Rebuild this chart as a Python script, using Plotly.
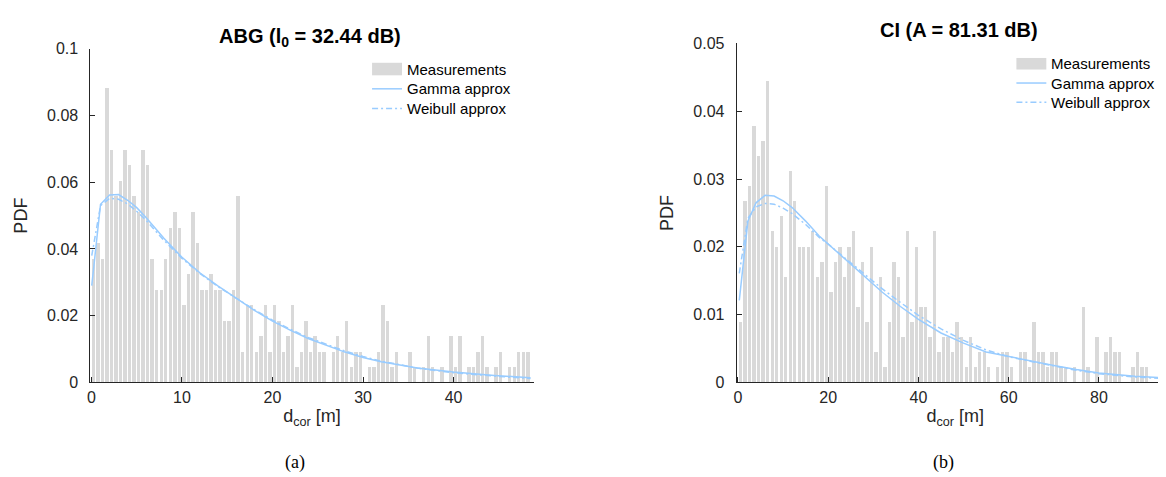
import numpy as np
import plotly.graph_objects as go

# ---------------- data: panel (a) ABG ----------------
bin_width_a = 0.5
pdf_per_count_a = 0.00465          # height of one sample in the pdf histogram (read)
counts_a = [8, 9, 8, 19, 15, 12, 13, 15, 14, 12, 11, 15, 14, 8, 6, 6, 8, 10, 11, 10,
            5, 7, 11, 9, 6, 6, 7, 6, 6, 4, 4, 6, 12, 2, 5, 5, 2, 3, 5, 2,
            5, 4, 2, 3, 5, 1, 2, 4, 2, 3, 2, 2, 0, 2, 3, 2, 4, 1, 2, 2,
            0, 1, 1, 2, 5, 4, 1, 2, 0, 0, 2, 1, 0, 1, 3, 1, 0, 1, 0, 3,
            1, 3, 0, 1, 1, 2, 3, 1, 0, 1, 2, 0, 1, 1, 2, 2, 2]
gamma_a_x = [0.03, 1.0, 2.0, 3.0, 4.0, 5.0, 6.0, 8.0, 10.0, 12.0, 14.0, 16.0, 18.0, 20.0,
             22.0, 24.0, 26.0, 28.0, 30.0, 32.0, 36.0, 40.0, 44.5, 48.5]
gamma_a_y = [0.0290, 0.0534, 0.0562, 0.0563, 0.0546, 0.0524, 0.0495, 0.0432, 0.0375, 0.0328,
             0.0289, 0.0253, 0.0216, 0.0184, 0.0156, 0.0131, 0.0110, 0.0091, 0.0075, 0.0062,
             0.0043, 0.0031, 0.0021, 0.0014]
weib_a_x = gamma_a_x
weib_a_y = [0.0380, 0.0530, 0.0552, 0.0549, 0.0535, 0.0513, 0.0487, 0.0426, 0.0372, 0.0326,
            0.0287, 0.0252, 0.0218, 0.0187, 0.0159, 0.0134, 0.0113, 0.0094, 0.0078, 0.0064,
            0.0043, 0.0029, 0.0019, 0.0012]

# ---------------- data: panel (b) CI ----------------
bin_width_b = 1.0
pdf_per_count_b = 0.00222
counts_b = [4, 12, 13, 17, 15, 16, 20, 10, 9, 11, 7, 14, 12, 9, 9, 9, 10, 7, 8, 13,
            6, 8, 9, 7, 9, 10, 5, 8, 4, 9, 2, 7, 1, 4, 8, 7, 3, 10, 4, 9,
            5, 5, 3, 10, 2, 3, 3, 2, 4, 3, 1, 3, 1, 2, 2, 1, 0, 1, 2, 2,
            1, 0, 2, 2, 1, 4, 2, 2, 1, 2, 2, 1, 1, 0, 1, 0, 5, 1, 0, 3,
            0, 2, 3, 2, 2, 0, 0, 1, 2, 1, 1, 0, 0, 0, 1, 1, 2]
gamma_b_x = [0.29, 2.2, 4.0, 6.0, 8.0, 10.0, 12.0, 15.0, 18.0, 20.0, 24.0, 28.0, 32.0, 36.0,
             40.0, 45.0, 50.0, 55.0, 60.0, 65.0, 70.0, 75.0, 80.0, 88.0, 96.6]
gamma_b_y = [0.0121, 0.0238, 0.0265, 0.0276, 0.0275, 0.0268, 0.0258, 0.0238, 0.0216, 0.0204,
             0.0180, 0.0156, 0.0133, 0.0112, 0.0093, 0.0073, 0.0058, 0.0045, 0.0038, 0.0032,
             0.0025, 0.0019, 0.0014, 0.0009, 0.0006]
weib_b_x = gamma_b_x
weib_b_y = [0.0161, 0.0242, 0.0259, 0.0264, 0.0263, 0.0257, 0.0249, 0.0233, 0.0214, 0.0204,
            0.0182, 0.0160, 0.0138, 0.0118, 0.0099, 0.0079, 0.0062, 0.0048, 0.0038, 0.0031,
            0.0024, 0.0018, 0.0013, 0.0008, 0.0005]

series_names = ["Measurements", "Gamma approx", "Weibull approx"]
title_a = "<b>ABG (l<sub>0</sub> = 32.44 dB)</b>"
title_b = "<b>CI (A = 81.31 dB)</b>"
xticks_a = [0, 10, 20, 30, 40]
xticks_b = [0, 20, 40, 60, 80]
yticks_a = [0, 0.02, 0.04, 0.06, 0.08, 0.1]
yticks_a_text = ["0", "0.02", "0.04", "0.06", "0.08", "0.1"]
yticks_b = [0, 0.01, 0.02, 0.03, 0.04, 0.05]
yticks_b_text = ["0", "0.01", "0.02", "0.03", "0.04", "0.05"]

# ---------------- styling ----------------
BAR = "#d9d9d9"
LINE = "#99ccff"
AX = "#262626"
FONT = "Liberation Sans, Arial, Helvetica, sans-serif"
SERIF = "Liberation Serif, Times New Roman, serif"
DASHDOT = "6px,3px,2px,3px"
W, H = 1166, 477

fig = go.Figure()


def add_panel(counts, bw, unit, gx, gy, wx, wy, xa, ya):
    centers = (np.arange(len(counts)) + 0.5) * bw
    heights = np.array(counts) * unit
    fig.add_trace(go.Bar(x=centers, y=heights, width=bw * 0.75, name=series_names[0],
                         marker=dict(color=BAR, line=dict(width=0)),
                         xaxis=xa, yaxis=ya, showlegend=False, hoverinfo="skip"))
    fig.add_trace(go.Scatter(x=gx, y=gy, mode="lines", name=series_names[1], showlegend=False,
                             line=dict(color=LINE, width=1.5), xaxis=xa, yaxis=ya))
    fig.add_trace(go.Scatter(x=wx, y=wy, mode="lines", name=series_names[2], showlegend=False,
                             line=dict(color=LINE, width=1.5, dash=DASHDOT), xaxis=xa, yaxis=ya))


add_panel(counts_a, bin_width_a, pdf_per_count_a, gamma_a_x, gamma_a_y, weib_a_x, weib_a_y, "x", "y")
add_panel(counts_b, bin_width_b, pdf_per_count_b, gamma_b_x, gamma_b_y, weib_b_x, weib_b_y, "x2", "y2")


def xaxis(dom, rng, ticks, anchor):
    return dict(domain=dom, range=rng, tickvals=ticks, ticktext=[str(t) for t in ticks], anchor=anchor,
                showline=True, linecolor=AX, linewidth=1, ticks="inside", ticklen=5, tickcolor=AX,
                showgrid=False, zeroline=False, tickfont=dict(family=FONT, size=16, color=AX),
                title=dict(text="d<sub>cor</sub> [m]", font=dict(family=FONT, size=18, color=AX), standoff=4))


def yaxis(dom, rng, ticks, text, anchor):
    return dict(domain=dom, range=rng, tickvals=ticks, ticktext=text, anchor=anchor,
                showline=True, linecolor=AX, linewidth=1, ticks="inside", ticklen=5, tickcolor=AX,
                showgrid=False, zeroline=False, tickfont=dict(family=FONT, size=16, color=AX),
                ticklabelstandoff=8,
                title=dict(text="PDF", font=dict(family=FONT, size=18, color=AX), standoff=14))


# manual legends (Matlab style): symbol 30 px wide, text 4 px after it
def legend(x_px, y_px_rows, patch_h):
    shapes, annots = [], []
    x0, x1 = x_px / W, (x_px + 30) / W
    yc = [(H - y) / H for y in y_px_rows]
    shapes.append(dict(type="rect", xref="paper", yref="paper", x0=x0, x1=x1,
                       y0=yc[0] - patch_h / 2 / H, y1=yc[0] + patch_h / 2 / H,
                       fillcolor=BAR, line=dict(width=0)))
    shapes.append(dict(type="line", xref="paper", yref="paper", x0=x0, x1=x1, y0=yc[1], y1=yc[1],
                       line=dict(color=LINE, width=1.5)))
    shapes.append(dict(type="line", xref="paper", yref="paper", x0=x0, x1=x1, y0=yc[2], y1=yc[2],
                       line=dict(color=LINE, width=1.5, dash=DASHDOT)))
    for name, y in zip(series_names, yc):
        annots.append(dict(text=name, x=(x_px + 33) / W, y=y, xref="paper", yref="paper", showarrow=False,
                           xanchor="left", yanchor="middle", font=dict(family=FONT, size=15, color="#000000")))
    return shapes, annots


sh_a, an_a = legend(362, [55, 75.5, 96], 13)
sh_b, an_b = legend(1008, [49.5, 69.5, 89.5], 12)

fig.update_layout(
    width=W, height=H, margin=dict(l=0, r=0, t=0, b=0), hovermode=False,
    plot_bgcolor="white", paper_bgcolor="white", bargap=0, showlegend=False,
    xaxis=xaxis([79.6 / W, 524 / W], [-0.12, 48.85], xticks_a, "y"),
    yaxis=yaxis([(H - 380) / H, (H - 34) / H], [0, 0.1], yticks_a, yticks_a_text, "x"),
    xaxis2=xaxis([727.5 / W, 1.0], [-0.3, 96.64], xticks_b, "y2"),
    yaxis2=yaxis([(H - 380) / H, (H - 28.5) / H], [0, 0.05], yticks_b, yticks_b_text, "x2"),
    shapes=sh_a + sh_b,
    annotations=an_a + an_b + [
        dict(text=title_a, x=300 / W, y=(H - 22) / H, xref="paper", yref="paper", showarrow=False,
             xanchor="center", yanchor="middle", font=dict(family=FONT, size=20, color="#000000")),
        dict(text=title_b, x=950 / W, y=(H - 15) / H, xref="paper", yref="paper", showarrow=False,
             xanchor="center", yanchor="middle", font=dict(family=FONT, size=20, color="#000000")),
        dict(text="(a)", x=285 / W, y=(H - 463) / H, xref="paper", yref="paper", showarrow=False,
             xanchor="center", yanchor="middle", font=dict(family=SERIF, size=18, color="#000000")),
        dict(text="(b)", x=935 / W, y=(H - 463) / H, xref="paper", yref="paper", showarrow=False,
             xanchor="center", yanchor="middle", font=dict(family=SERIF, size=18, color="#000000")),
    ],
)

fig.write_html("out.html")
